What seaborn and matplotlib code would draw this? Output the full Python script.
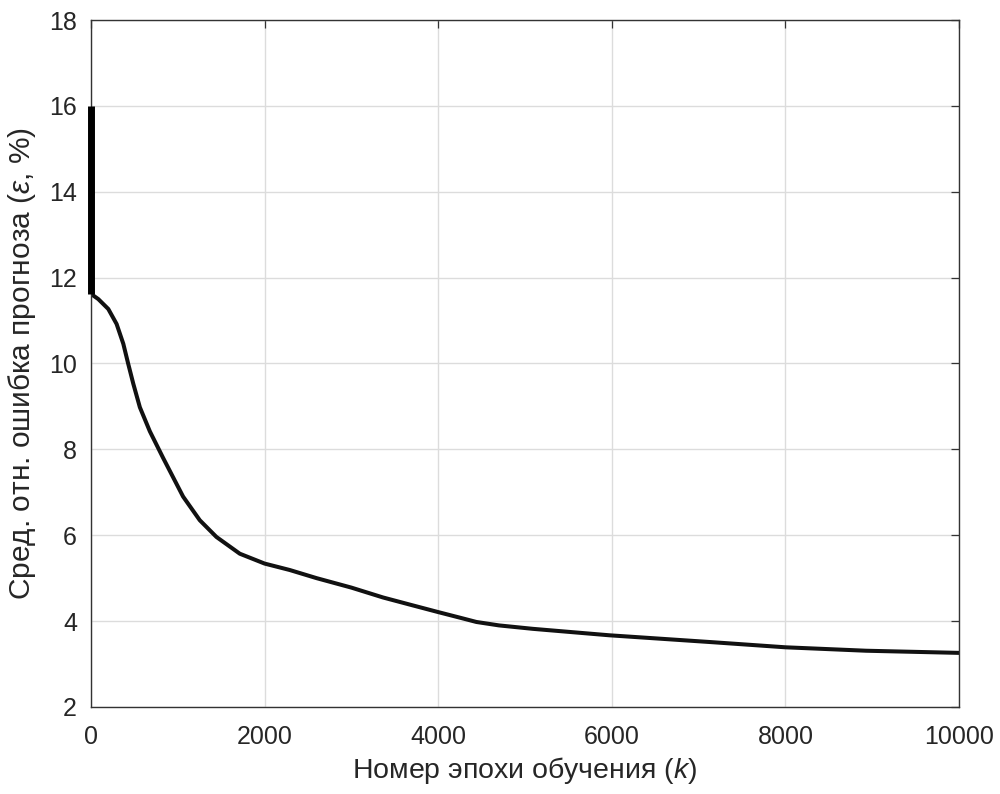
import matplotlib
matplotlib.use("Agg")
import matplotlib.pyplot as plt
import seaborn as sns
import pandas as pd

# --- data ---
start_epoch = [0, 0]
start_err = [16.0, 11.62]

epoch = [0, 84, 199, 295, 372, 429, 487, 563, 678, 831, 1061, 1253, 1445, 1714,
         2000, 2290, 2600, 3000, 3365, 3700, 4000, 4250, 4440, 4700, 5090, 5970,
         7150, 8000, 8930, 10000]
err = [11.62, 11.50, 11.27, 10.92, 10.46, 9.99, 9.53, 8.98, 8.42, 7.80, 6.90, 6.35, 5.96, 5.57,
       5.34, 5.19, 5.00, 4.78, 4.55, 4.37, 4.21, 4.08, 3.98, 3.90, 3.82, 3.67,
       3.51, 3.39, 3.31, 3.26]

xticks = [0, 2000, 4000, 6000, 8000, 10000]
yticks = [2, 4, 6, 8, 10, 12, 14, 16, 18]

sns.set_style("white")
plt.rcParams['font.family'] = ['Liberation Sans', 'DejaVu Sans']
plt.rcParams['mathtext.fontset'] = 'custom'
plt.rcParams['mathtext.rm'] = 'Liberation Sans'
plt.rcParams['mathtext.it'] = 'Liberation Sans:italic'

fig = plt.figure(figsize=(10, 7.94), dpi=100)
ax = fig.add_axes([0.091, 0.1096, 0.868, 0.8652])

df_start = pd.DataFrame({"k": start_epoch, "e": start_err})
df = pd.DataFrame({"k": epoch, "e": err})

sns.lineplot(data=df_start, x="k", y="e", ax=ax, color="black", lw=5.0,
             estimator=None, sort=False, solid_capstyle="butt")
sns.lineplot(data=df, x="k", y="e", ax=ax, color="#111111", lw=2.9,
             estimator=None, sort=False)
ax.lines[0].set_clip_on(False)
ax.lines[0].set_zorder(5)

ax.set_xlim(0, 10000)
ax.set_ylim(2, 18)
ax.set_xticks(xticks)
ax.set_yticks(yticks)
ax.set_xticklabels([str(v) for v in xticks])
ax.set_yticklabels([str(v) for v in yticks])

ax.grid(True, color="#dcdcdc", lw=1.0)
ax.set_axisbelow(True)
for s in ax.spines.values():
    s.set_color("#333333")
    s.set_linewidth(1.0)

ax.tick_params(axis="both", direction="in", length=6, width=0.9, colors="#333333",
               labelcolor="#262626", labelsize=18, top=True, right=True)
ax.tick_params(axis="y", pad=10)
ax.tick_params(axis="x", pad=13)

ax.set_xlabel("Номер эпохи обучения ($k$)", fontsize=20.5, color="#262626", labelpad=4)
ax.set_ylabel("Сред. отн. ошибка прогноза ($\\epsilon$, %)", fontsize=21.5,
              color="#262626", labelpad=8)

fig.savefig("out.png", dpi=100, facecolor="white")
